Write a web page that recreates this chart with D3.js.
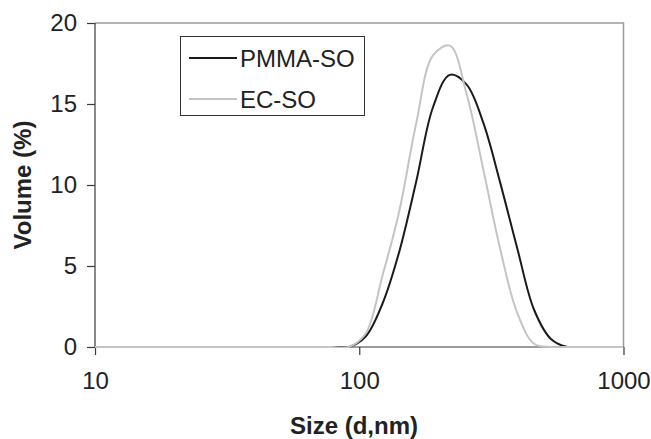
<!DOCTYPE html>
<html>
<head>
<meta charset="utf-8">
<script src="https://cdn.jsdelivr.net/npm/d3@7"></script>
<style>
  body { margin: 0; background: #fff; }
  svg { display: block; font-family: Arial, "Liberation Sans", sans-serif; }
</style>
</head>
<body>
<svg id="chart" width="651" height="439"></svg>
<script>
// size classes (nm), log spaced like the instrument output
const sizes = [8.721, 10.1, 11.7, 13.54, 15.69, 18.17, 21.04, 24.36, 28.21, 32.67, 37.84, 43.82,
  50.75, 58.77, 68.06, 78.82, 91.28, 105.7, 122.4, 141.8, 164.2, 190.1, 220.2, 255.0, 295.3,
  342.0, 396.1, 458.7, 531.2, 615.1, 712.4, 825.0, 955.4, 1106];

// volume %
const pmmaSO = [0, 0, 0, 0, 0, 0, 0, 0, 0, 0, 0, 0,
  0, 0, 0, 0, 0, 0.64, 2.67, 5.9, 10.2, 14.8, 16.8, 16.2, 13.8,
  10.1, 6.1, 2.3, 0.5, 0, 0, 0, 0, 0];
const ecSO = [0, 0, 0, 0, 0, 0, 0, 0, 0, 0, 0, 0,
  0, 0, 0, 0, 0, 0.83, 4.4, 8.4, 13.8, 18.0, 18.6, 15.6, 10.9,
  6.0, 2.1, 0.2, 0, 0, 0, 0, 0, 0];

const xTicks = [10, 100, 1000];
const yTicks = [0, 5, 10, 15, 20];
const seriesNames = ["PMMA-SO", "EC-SO"];
const seriesColors = ["#1a1a1a", "#c4c4c4"];

const margin = { left: 95, right: 27.5, top: 23, bottom: 92 };
const W = 651, H = 439;
const fontSize = 24;

const svg = d3.select("svg#chart");

const x = d3.scaleLog()
    .domain([10, 1000])
    .range([margin.left, W - margin.right]);
const y = d3.scaleLinear()
    .domain([0, 20])
    .range([H - margin.bottom, margin.top]);

// clip for the lines (tight at the bottom so spline feet stay on the axis)
svg.append("clipPath").attr("id", "plot-clip")
  .append("rect")
    .attr("x", x.range()[0]).attr("y", y.range()[1] - 2)
    .attr("width", x.range()[1] - x.range()[0])
    .attr("height", y.range()[0] - y.range()[1] + 3);

// plot area border (top/right, grey)
svg.append("path")
    .attr("d", `M${x.range()[0]},${y(20)}H${x.range()[1]}V${y(0)}`)
    .attr("fill", "none")
    .attr("stroke", "#9a9a9a")
    .attr("stroke-width", 1.5);

// axes
const yAxis = d3.axisLeft(y).tickValues(yTicks).tickSize(8).tickPadding(10).tickFormat(d3.format("d"));
const xAxis = d3.axisBottom(x).tickValues(xTicks).tickSize(8).tickPadding(17).tickFormat(d3.format("d"));

const gy = svg.append("g")
    .attr("transform", `translate(${x.range()[0]},0)`)
    .call(yAxis);
const gx = svg.append("g")
    .attr("transform", `translate(0,${y(0)})`)
    .call(xAxis);

[gx, gy].forEach(g => {
  g.select(".domain").attr("stroke", "#3a3a3a").attr("stroke-width", 1.2);
  g.selectAll(".tick line").attr("stroke", "#3a3a3a").attr("stroke-width", 1.2);
  g.selectAll(".tick text")
      .attr("font-size", fontSize)
      .attr("font-family", "Arial, 'Liberation Sans', sans-serif")
      .attr("fill", "#222");
});
// plain axis lines, no outer ticks
gy.select(".domain").attr("d", `M0,${y(20)}V${y(0)}`);
gx.select(".domain").attr("d", `M${x.range()[0]},0H${x.range()[1]}`);

// series lines, smoothed like the spreadsheet did
const line = d3.line()
    .x((d, i) => x(sizes[i]))
    .y(d => y(d))
    .curve(d3.curveCatmullRom.alpha(0.5));

const seriesValues = [pmmaSO, ecSO];
const lines = svg.append("g").attr("clip-path", "url(#plot-clip)");
seriesValues.forEach((vals, k) => {
  lines.append("path")
      .datum(vals)
      .attr("d", line)
      .attr("fill", "none")
      .attr("stroke", seriesColors[k])
      .attr("stroke-width", 2)
      .attr("stroke-linejoin", "round");
});

// axis titles
svg.append("text")
    .attr("x", 354)
    .attr("y", 434)
    .attr("text-anchor", "middle")
    .attr("font-size", fontSize)
    .attr("font-weight", "bold")
    .attr("fill", "#222")
    .text("Size (d,nm)");

svg.append("text")
    .attr("transform", `translate(31,${(y(0) + y(20)) / 2}) rotate(-90)`)
    .attr("text-anchor", "middle")
    .attr("font-size", fontSize)
    .attr("font-weight", "bold")
    .attr("fill", "#222")
    .text("Volume (%)");

// legend
const legend = svg.append("g");
legend.append("rect")
    .attr("x", 180.5).attr("y", 36.5)
    .attr("width", 184).attr("height", 79)
    .attr("fill", "#fff")
    .attr("stroke", "#333")
    .attr("stroke-width", 1);
seriesNames.forEach((name, k) => {
  const ly = 58 + k * 41;
  legend.append("line")
      .attr("x1", 189).attr("x2", 237)
      .attr("y1", ly).attr("y2", ly)
      .attr("stroke", seriesColors[k])
      .attr("stroke-width", 2);
  legend.append("text")
      .attr("x", 240).attr("y", ly)
      .attr("dy", "0.36em")
      .attr("font-size", fontSize)
      .attr("fill", "#222")
      .text(name);
});
</script>
</body>
</html>
